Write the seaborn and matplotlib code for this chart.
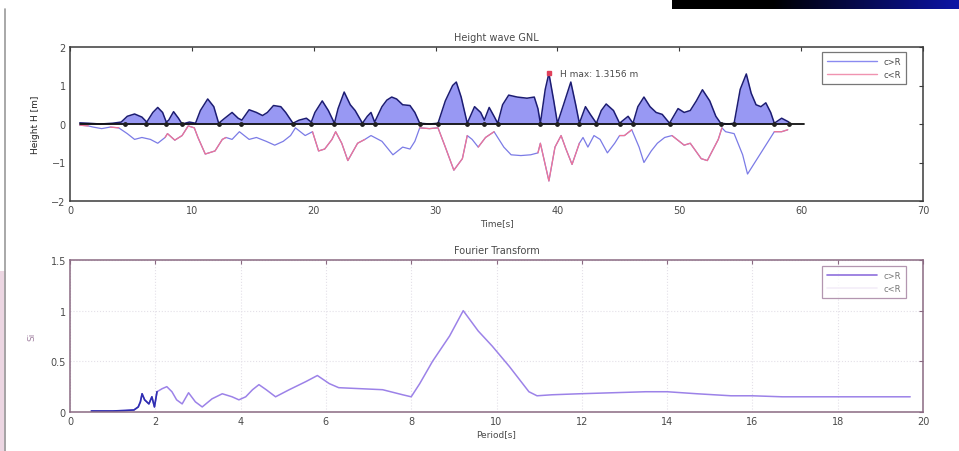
import numpy as np
import pandas as pd
import matplotlib
matplotlib.use("Agg")
import matplotlib.pyplot as plt
from matplotlib.lines import Line2D
from matplotlib.patches import Rectangle
import seaborn as sns

# ---- wave record: crest envelope (H > 0) ----
t_crest = [0.8, 1.5, 2.5, 3.5, 4.2, 4.7, 5.3, 5.9, 6.3, 6.8, 7.2, 7.6, 7.9, 8.1, 8.5, 8.9,
           9.2, 9.8, 10.3, 10.7, 11.3, 11.8, 12.2, 12.7, 13.3, 13.8, 14.1, 14.7, 15.3, 15.8,
           16.2, 16.7, 17.3, 17.7, 18.3, 18.8, 19.4, 19.8, 20.1, 20.7, 21.2, 21.7, 22.0, 22.5,
           23.0, 23.4, 24.0, 24.4, 24.7, 25.0, 25.6, 26.0, 26.4, 26.8, 27.3, 27.9, 28.3, 28.7,
           29.5, 30.2, 30.8, 31.4, 31.7, 32.1, 32.6, 33.2, 33.7, 34.0, 34.4, 34.8, 35.1, 35.5,
           36.0, 36.7, 37.5, 38.1, 38.4, 38.6, 39.0, 39.3, 39.7, 40.0, 40.5, 41.1, 41.5, 41.8,
           42.3, 42.7, 43.2, 43.6, 44.0, 44.6, 45.1, 45.8, 46.2, 46.6, 47.1, 47.6, 48.1, 48.6,
           49.2, 49.9, 50.4, 50.9, 51.4, 51.9, 52.5, 53.0, 53.4, 54.0, 54.5, 55.0, 55.5, 55.9,
           56.3, 56.7, 57.1, 57.5, 57.8, 58.4, 59.0]
h_crest = [0.03, 0.02, 0.0, 0.02, 0.05, 0.2, 0.26, 0.18, 0.05, 0.3, 0.43, 0.3, 0.05, 0.1, 0.32, 0.15,
           0.0, 0.05, 0.02, 0.35, 0.65, 0.45, 0.02, 0.15, 0.3, 0.15, 0.1, 0.37, 0.3, 0.22,
           0.3, 0.48, 0.45, 0.3, 0.02, 0.1, 0.15, 0.05, 0.3, 0.6, 0.35, 0.02, 0.4, 0.83,
           0.5, 0.35, 0.02, 0.2, 0.3, 0.05, 0.45, 0.62, 0.7, 0.65, 0.5, 0.48, 0.3, 0.02,
           0.0, 0.02, 0.6, 1.0, 1.09, 0.7, 0.02, 0.45, 0.3, 0.1, 0.43, 0.2, 0.02, 0.5,
           0.75, 0.7, 0.67, 0.7, 0.4, 0.02, 0.9, 1.3156, 0.6, 0.02, 0.5, 1.09, 0.5, 0.02,
           0.45, 0.25, 0.02, 0.35, 0.52, 0.35, 0.02, 0.2, 0.02, 0.45, 0.7, 0.45, 0.3, 0.25,
           0.02, 0.4, 0.3, 0.35, 0.6, 0.89, 0.6, 0.2, 0.02, 0.0, 0.02, 0.9, 1.3, 0.8,
           0.5, 0.45, 0.55, 0.3, 0.02, 0.15, 0.05]

# ---- wave record: trough envelope (H < 0) ----
t_trough = [0.8, 1.5, 1.9, 2.6, 3.3, 4.0, 4.7, 5.3, 5.9, 6.6, 7.2, 7.8, 8.0, 8.6, 9.2, 9.7,
            10.2, 10.5, 11.1, 11.9, 12.5, 12.8, 13.3, 13.9, 14.7, 15.3, 16.1, 16.8, 17.5, 18.1,
            18.5, 19.3, 19.9, 20.4, 20.9, 21.5, 21.8, 22.3, 22.8, 23.6, 24.2, 24.7, 25.6, 26.5,
            27.3, 27.9, 28.3, 28.7, 29.5, 30.2, 30.8, 31.5, 32.2, 32.6, 33.0, 33.5, 34.1, 34.8,
            35.6, 36.2, 37.0, 37.8, 38.4, 38.6, 39.3, 39.8, 40.3, 40.7, 41.2, 41.8, 42.1, 42.5,
            43.0, 43.5, 44.1, 44.7, 45.1, 45.5, 46.1, 46.7, 47.1, 47.7, 48.2, 48.8, 49.4, 50.4,
            50.9, 51.8, 52.3, 53.2, 53.5, 53.8, 54.5, 55.2, 55.6, 56.4, 57.2, 57.8, 58.4, 58.9]
h_trough = [-0.03, -0.05, -0.08, -0.12, -0.08, -0.1, -0.25, -0.4, -0.35, -0.4, -0.5, -0.35, -0.25, -0.42, -0.3, -0.05,
            -0.1, -0.35, -0.78, -0.7, -0.4, -0.35, -0.4, -0.2, -0.4, -0.35, -0.45, -0.55, -0.45, -0.3,
            -0.1, -0.3, -0.2, -0.7, -0.65, -0.4, -0.2, -0.5, -0.95, -0.5, -0.4, -0.3, -0.45, -0.8,
            -0.6, -0.65, -0.45, -0.1, -0.12, -0.1, -0.6, -1.2, -0.9, -0.3, -0.4, -0.6, -0.35, -0.2,
            -0.6, -0.8, -0.82, -0.8, -0.75, -0.5, -1.48, -0.6, -0.3, -0.65, -1.05, -0.5, -0.35, -0.6,
            -0.3, -0.4, -0.75, -0.5, -0.3, -0.3, -0.15, -0.6, -1.0, -0.7, -0.5, -0.35, -0.3, -0.55,
            -0.5, -0.9, -0.95, -0.4, -0.1, -0.2, -0.25, -0.8, -1.3, -0.9, -0.5, -0.2, -0.2, -0.15]

# time windows where the trough is drawn in the second colour
pink_windows = [(0.8, 1.5), (3.3, 4.0), (7.8, 9.7), (10.2, 12.8), (19.9, 24.2), (28.7, 32.6),
                (33.5, 34.8), (38.4, 41.8), (45.1, 46.1), (49.4, 53.5), (57.8, 58.9)]

# zero up/down crossings
t_cross = [4.5, 6.2, 7.9, 9.2, 12.2, 14.0, 18.3, 19.8, 21.7, 24.0, 25.0, 28.7, 30.2, 32.6, 34.0,
           35.1, 38.6, 40.0, 41.8, 43.2, 45.1, 46.2, 49.2, 53.4, 54.5, 57.8, 59.0]

h_max_t = 39.3
h_max = 1.3156

# ---- Fourier spectrum ----
period = [0.5, 1.0, 1.3, 1.5, 1.6, 1.65, 1.69, 1.75, 1.85, 1.92, 1.98, 2.04, 2.16, 2.27, 2.39, 2.5,
          2.63, 2.78, 2.94, 3.1, 3.33, 3.57, 3.8, 3.96, 4.12, 4.28, 4.43, 4.6, 4.82, 5.14, 5.53,
          5.8, 6.08, 6.3, 7.33, 7.8, 8.0, 8.2, 8.5, 8.9, 9.22, 9.57, 9.9, 10.3, 10.76, 10.95,
          11.3, 11.95, 13.5, 14.0, 14.7, 15.5, 16.0, 16.7, 18.0, 19.7]
spectrum = [0.01, 0.01, 0.015, 0.02, 0.05, 0.1, 0.18, 0.12, 0.08, 0.15, 0.05, 0.2, 0.23, 0.25, 0.2, 0.12,
            0.08, 0.19, 0.1, 0.05, 0.13, 0.18, 0.15, 0.12, 0.15, 0.22, 0.27, 0.22, 0.15, 0.22, 0.3,
            0.36, 0.28, 0.24, 0.22, 0.17, 0.15, 0.28, 0.5, 0.75, 1.0, 0.8, 0.65, 0.45, 0.2, 0.16,
            0.17, 0.18, 0.2, 0.2, 0.18, 0.16, 0.16, 0.15, 0.15, 0.15]

legend_labels = ["c>R", "c<R"]

sns.set_theme(style="white")
plt.rcParams["font.family"] = ["DejaVu Sans"]
TXT = "#4a4a4a"

fig = plt.figure(figsize=(9.59, 4.52), dpi=100)
fig.patch.set_facecolor("white")

ax1 = fig.add_axes([70 / 959, 1 - 202 / 452, 853 / 959, 154 / 452])
ax2 = fig.add_axes([70 / 959, 1 - 413 / 452, 853 / 959, 152 / 452])

crest = pd.DataFrame({"t": t_crest, "h": h_crest})
trough = pd.DataFrame({"t": t_trough, "h": h_trough})
trough["pink"] = [any(a <= t <= b for a, b in pink_windows) for t in t_trough]

BLUE_FILL = "#8d8df2"
BLUE_EDGE = "#1c1c72"
BLUE_LINE = "#7b7be6"
PINK_LINE = "#ef7596"

# crest area
ax1.fill_between(crest["t"], 0, crest["h"], color=BLUE_FILL, alpha=0.9, lw=0)
sns.lineplot(data=crest, x="t", y="h", ax=ax1, color=BLUE_EDGE, lw=1.1, estimator=None, sort=False)

# trough line, pink where flagged
sns.lineplot(data=trough, x="t", y="h", ax=ax1, color=BLUE_LINE, lw=0.9, estimator=None, sort=False)
run = (trough["pink"] != trough["pink"].shift()).cumsum()
for _, seg in trough[trough["pink"]].groupby(run[trough["pink"]]):
    if len(seg) > 1:
        ax1.plot(seg["t"], seg["h"], color=PINK_LINE, lw=0.9)

# zero line and crossings
ax1.plot([t_crest[0], 60.2], [0, 0], color="#101010", lw=1.3)
ax1.scatter(t_cross, np.zeros(len(t_cross)), s=6, color="#202020", zorder=5)
ax1.plot([h_max_t], [h_max], marker="s", ms=3.5, color="#e0405a", zorder=6)
ax1.text(h_max_t + 0.9, h_max, f"H max: {h_max:.4f} m", fontsize=6.5, color=TXT, va="center")

ax1.set_xlim(0, 70)
ax1.set_ylim(-2, 2)
ax1.set_xticks(range(0, 71, 10))
ax1.set_yticks([-2, -1, 0, 1, 2])
ax1.set_title("Height wave GNL", fontsize=7, color=TXT, pad=5)
ax1.set_xlabel("Time[s]", fontsize=6.5, color=TXT, labelpad=2)
ax1.set_ylabel("Height H [m]", fontsize=6.5, color="#222", labelpad=8)

h_blue = Line2D([], [], color="#8a8af0", lw=1)
h_pink = Line2D([], [], color="#f093b0", lw=1)
leg1 = ax1.legend([h_blue, h_pink], legend_labels, loc="upper right", fontsize=6,
                  frameon=True, fancybox=False, handlelength=6, borderpad=0.6,
                  bbox_to_anchor=(0.985, 0.995), labelcolor=TXT)
leg1.get_frame().set_edgecolor("#555")
leg1.get_frame().set_linewidth(0.9)

# ---- spectrum ----
spec = pd.DataFrame({"T": period, "S": spectrum})
sns.lineplot(data=spec, x="T", y="S", ax=ax2, color="#9c82e8", lw=1.1, estimator=None, sort=False)
low = spec[spec["T"] <= 2.1]
ax2.plot(low["T"], low["S"], color="#2e2eb0", lw=1.2)

ax2.set_xlim(0, 20)
ax2.set_ylim(0, 1.5)
ax2.set_xticks(range(0, 21, 2))
ax2.set_yticks([0, 0.5, 1, 1.5])
ax2.set_yticklabels(["0", "0.5", "1", "1.5"])
ax2.grid(True, linestyle=":", color="#e4e0e8", lw=0.8)
ax2.set_title("Fourier Transform", fontsize=7, color=TXT, pad=5)
ax2.set_xlabel("Period[s]", fontsize=6.5, color=TXT, labelpad=2)
ax2.set_ylabel("Si", fontsize=6.5, color="#a080a0", labelpad=10)

h_p = Line2D([], [], color="#8f70dd", lw=1.2)
h_w = Line2D([], [], color="#f4eef8", lw=1.2)
leg2 = ax2.legend([h_p, h_w], legend_labels, loc="upper right", fontsize=6,
                  frameon=True, fancybox=False, handlelength=6, borderpad=0.6,
                  bbox_to_anchor=(0.985, 0.99), labelcolor="#777")
leg2.get_frame().set_edgecolor("#a07c9c")
leg2.get_frame().set_linewidth(0.9)

for ax, spine_c in ((ax1, "#3a3a3a"), (ax2, "#8a6a82")):
    ax.set_facecolor("white")
    for s in ax.spines.values():
        s.set_visible(True)
        s.set_color(spine_c)
        s.set_linewidth(1.1)
    ax.tick_params(direction="in", length=3, width=0.8, colors=spine_c,
                   labelsize=7, labelcolor=TXT, top=True, right=True, pad=3)

# page edge details around the figure
fig.add_artist(Line2D([5 / 959, 5 / 959], [0, 1 - 10 / 452], color="#9a9a9a", lw=1.2))
fig.add_artist(Rectangle((0, 0), 6 / 959, 180 / 452, color="#ecd6e2", lw=0))
band = fig.add_axes([672 / 959, 1 - 10 / 452, 287 / 959, 10 / 452])
grad = np.linspace(0, 1, 256)
rgb = np.zeros((1, 256, 3))
ramp = np.clip((grad - 0.35) / 0.65, 0, 1)
rgb[0, :, 0] = 0.05 * ramp
rgb[0, :, 1] = 0.08 * ramp
rgb[0, :, 2] = 0.65 * ramp
band.imshow(rgb, aspect="auto", extent=(0, 1, 0, 1))
band.set_axis_off()

fig.savefig("out.png", dpi=100, facecolor="white")
